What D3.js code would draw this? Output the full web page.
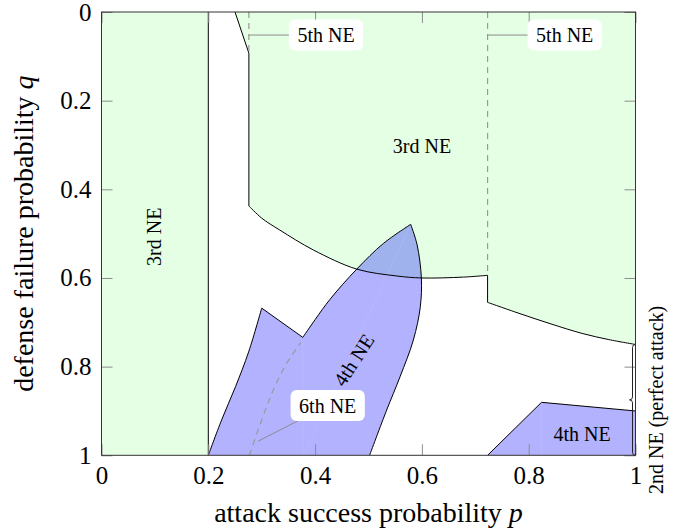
<!DOCTYPE html>
<html>
<head>
<meta charset="utf-8">
<script src="https://cdn.jsdelivr.net/npm/d3@7"></script>
<style>
  html, body { margin: 0; padding: 0; background: #fff; }
  svg { display: block; }
  svg text { font-family: "Liberation Serif", "Times New Roman", Times, serif; }
</style>
</head>
<body>
<svg id="chart" width="689" height="531"></svg>
<script>
// ---- equilibrium regions in the (p, q) plane ----
// left strip where the 3rd NE holds
const leftStrip = [[0, 0], [0.2, 0], [0.2, 1], [0, 1]];

// upper 3rd NE region: boundary pieces (top-left corner, arc, step, tail)
const upperNotch = [[0.25, 0], [0.276, 0.093], [0.276, 0.4376]];
const upperArc = [[0.276, 0.4376], [0.30, 0.465], [0.334, 0.492], [0.397, 0.537],
                  [0.478, 0.580], [0.553, 0.5955], [0.60, 0.600], [0.678, 0.598], [0.723, 0.594]];
const upperStep = [[0.723, 0.594], [0.723, 0.655]];
const upperTail = [[0.723, 0.655], [0.78, 0.679], [0.84, 0.703], [0.90, 0.725], [0.95, 0.739], [1, 0.75]];
const upperClose = [[1, 0.75], [1, 0], [0.25, 0]];

// leaf-shaped 4th NE region
const leafLeft = [[0.2, 1], [0.225, 0.92], [0.251, 0.845], [0.276, 0.765], [0.3, 0.668]];
const leafNotch = [[0.3, 0.668], [0.377, 0.734]];
const leafUpper = [[0.377, 0.734], [0.40, 0.694], [0.428, 0.648], [0.478, 0.580], [0.528, 0.522], [0.579, 0.479]];
const leafRight = [[0.579, 0.479], [0.591, 0.525], [0.599, 0.600], [0.597, 0.665], [0.584, 0.740],
                   [0.559, 0.823], [0.534, 0.898], [0.502, 1]];
const leafClose = [[0.502, 1], [0.2, 1]];

// lower-right 4th NE region
const cornerRegion = [[0.723, 1], [0.824, 0.8805], [1, 0.9], [1, 1]];

// faint seams between fill patches
const seams = [
  [[0.377, 1], [0.377, 0.734]],
  [[0.379, 1], [0.579, 0.479]],
  [[0.824, 1], [0.824, 0.8805]]
];

// dashed borders of the 5th and 6th NE
const fifthLines = [[[0.276, 0], [0.276, 0.093]], [[0.723, 0], [0.723, 0.594]]];
const sixthCurve = [[0.277, 1], [0.300, 0.920], [0.3217, 0.853], [0.3468, 0.7925], [0.373, 0.746]];

// pinned labels: anchor point and label centre
const pinLabels = [
  { text: "5th NE", at: [0.276, 0.052], label: [0.4204, 0.052] },
  { text: "5th NE", at: [0.723, 0.052], label: [0.8674, 0.052] },
  { text: "6th NE", at: [0.2936, 0.968], label: [0.4236, 0.8877] }
];

// region names
const regionLabels = [
  { text: "3rd NE", at: [0.0983, 0.507], angle: -90 },
  { text: "3rd NE", at: [0.6002, 0.3023], angle: 0 },
  { text: "4th NE", at: [0.4723, 0.785], angle: -57 },
  { text: "4th NE", at: [0.8998, 0.952], angle: 0 }
];

// brace on the right edge: q range of the 2nd NE at p = 1
const braceRange = [0.75, 1];
const braceText = "2nd NE (perfect attack)";

// axes
const xTickValues = [0, 0.2, 0.4, 0.6, 0.8, 1];
const xTickLabels = ["0", "0.2", "0.4", "0.6", "0.8", "1"];
const yTickValues = [0, 0.2, 0.4, 0.6, 0.8, 1];
const yTickLabels = ["0", "0.2", "0.4", "0.6", "0.8", "1"];
const xTitle = "attack success probability ";
const xTitleVar = "p";
const yTitle = "defense failure probability ";
const yTitleVar = "q";

// ---- drawing ----
const SERIF = '"Liberation Serif", "Times New Roman", Times, serif';
const GREEN = "#e5ffe5";
const svg = d3.select("#chart");

const x = d3.scaleLinear().domain([0, 1]).range([101.5, 635.5]);
const y = d3.scaleLinear().domain([0, 1]).range([12, 455.3]);

const straight = d3.line().x(d => x(d[0])).y(d => y(d[1]));
const smooth = d3.line().x(d => x(d[0])).y(d => y(d[1])).curve(d3.curveCatmullRom.alpha(0.5));

function joinPath(segs) {
  return segs.map((s, i) => {
    const p = (s.smooth ? smooth : straight)(s.pts);
    return i ? p.replace(/^M/, "L") : p;
  }).join("");
}

function serif(sel, size) {
  return sel.style("font-family", SERIF).style("font-size", size + "px").attr("fill", "#000");
}

svg.append("defs").append("clipPath").attr("id", "plot-clip")
  .append("rect")
  .attr("x", x(0)).attr("y", y(0))
  .attr("width", x(1) - x(0)).attr("height", y(1) - y(0));

const plot = svg.append("g").attr("clip-path", "url(#plot-clip)");

// green regions
plot.append("path").attr("d", straight(leftStrip) + "Z").attr("fill", GREEN);

const upperSegs = [
  { pts: upperNotch }, { pts: upperArc, smooth: true },
  { pts: upperStep }, { pts: upperTail, smooth: true }
];
plot.append("path")
  .attr("d", joinPath([...upperSegs, { pts: upperClose }]) + "Z")
  .attr("fill", GREEN);

// blue regions
const leafSegs = [
  { pts: leafLeft, smooth: true }, { pts: leafNotch },
  { pts: leafUpper, smooth: true }, { pts: leafRight, smooth: true }
];
plot.append("path")
  .attr("d", joinPath([...leafSegs, { pts: leafClose }]) + "Z")
  .attr("fill", "#0000ff").attr("fill-opacity", 0.3);
plot.append("path")
  .attr("d", straight(cornerRegion) + "Z")
  .attr("fill", "#0000ff").attr("fill-opacity", 0.3);

seams.forEach(s => {
  plot.append("path").attr("d", straight(s))
    .attr("fill", "none").attr("stroke", "#ffffff")
    .attr("stroke-opacity", 0.13).attr("stroke-width", 0.7);
});

// black borders
const border = g => g.attr("fill", "none").attr("stroke", "#000").attr("stroke-width", 1)
  .attr("stroke-linejoin", "miter");
plot.append("path").attr("d", straight([[0.2, 0], [0.2, 1]])).call(border);
plot.append("path").attr("d", joinPath(upperSegs)).call(border);
plot.append("path").attr("d", joinPath(leafSegs)).call(border);
plot.append("path").attr("d", straight(cornerRegion.slice(0, 3))).call(border);

// dashed lines
const dashed = g => g.attr("fill", "none").attr("stroke", "#999")
  .attr("stroke-width", 1.2).attr("stroke-dasharray", "6,5");
fifthLines.forEach(l => plot.append("path").attr("d", straight(l)).call(dashed));
plot.append("path").attr("d", smooth(sixthCurve)).call(dashed);

// axes with inward ticks on all four sides
function styleAxis(g) {
  g.attr("font-family", null).attr("font-size", null);
  g.select(".domain").remove();
  g.selectAll(".tick line").attr("stroke", "#8c8c8c").attr("stroke-width", 1);
  g.selectAll(".tick text").call(serif, 25);
}
svg.append("g").attr("transform", `translate(0,${y(1)})`)
  .call(d3.axisBottom(x).tickValues(xTickValues).tickFormat((d, i) => xTickLabels[i])
    .tickSizeInner(-11).tickSizeOuter(0).tickPadding(11))
  .call(styleAxis);
svg.append("g").attr("transform", `translate(0,${y(0)})`)
  .call(d3.axisTop(x).tickValues(xTickValues).tickFormat(() => "")
    .tickSizeInner(-11).tickSizeOuter(0))
  .call(styleAxis);
svg.append("g").attr("transform", `translate(${x(0)},0)`)
  .call(d3.axisLeft(y).tickValues(yTickValues).tickFormat((d, i) => yTickLabels[i])
    .tickSizeInner(-11).tickSizeOuter(0).tickPadding(10))
  .call(styleAxis);
svg.append("g").attr("transform", `translate(${x(1)},0)`)
  .call(d3.axisRight(y).tickValues(yTickValues).tickFormat(() => "")
    .tickSizeInner(-11).tickSizeOuter(0))
  .call(styleAxis);

// frame
svg.append("rect")
  .attr("x", x(0)).attr("y", y(0))
  .attr("width", x(1) - x(0)).attr("height", y(1) - y(0))
  .attr("fill", "none").attr("stroke", "#333").attr("stroke-width", 1);

// brace for the 2nd NE
{
  const xb = x(1), a = 6;
  const y1 = y(braceRange[0]), y2 = y(braceRange[1]), ym = (y1 + y2) / 2;
  const p = d3.path();
  p.moveTo(xb, y1);
  p.quadraticCurveTo(xb - a / 2, y1, xb - a / 2, y1 + a / 2);
  p.lineTo(xb - a / 2, ym - a / 2);
  p.quadraticCurveTo(xb - a / 2, ym, xb - a, ym);
  p.quadraticCurveTo(xb - a / 2, ym, xb - a / 2, ym + a / 2);
  p.lineTo(xb - a / 2, y2 - a / 2);
  p.quadraticCurveTo(xb - a / 2, y2, xb, y2);
  svg.append("path").attr("d", p.toString())
    .attr("fill", "none").attr("stroke", "#222").attr("stroke-width", 1);
  svg.append("text")
    .attr("transform", `translate(${xb + 20.5},${ym}) rotate(-90)`)
    .attr("dy", "0.35em").attr("text-anchor", "middle")
    .call(serif, 20)
    .text(braceText);
}

// region names
regionLabels.forEach(l => {
  svg.append("text")
    .attr("transform", `translate(${x(l.at[0])},${y(l.at[1])}) rotate(${l.angle})`)
    .attr("dy", "0.35em").attr("text-anchor", "middle")
    .call(serif, 20)
    .text(l.text);
});

// pinned labels in rounded white boxes
pinLabels.forEach(l => {
  const g = svg.append("g");
  const cx = x(l.label[0]), cy = y(l.label[1]);
  g.append("line")
    .attr("x1", x(l.at[0])).attr("y1", y(l.at[1]))
    .attr("x2", cx).attr("y2", cy)
    .attr("stroke", "#8c8c8c").attr("stroke-width", 1);
  const rect = g.append("rect");
  const t = g.append("text")
    .attr("x", cx).attr("y", cy).attr("dy", "0.35em")
    .attr("text-anchor", "middle")
    .call(serif, 20)
    .text(l.text);
  const w = t.node().getComputedTextLength() + 17, h = 31;
  rect.attr("x", cx - w / 2).attr("y", cy - h / 2)
    .attr("width", w).attr("height", h)
    .attr("rx", 6).attr("fill", "#fff");
});

// axis titles
const xt = svg.append("text")
  .attr("x", (x(0) + x(1)) / 2).attr("y", 522)
  .attr("text-anchor", "middle")
  .call(serif, 28);
xt.append("tspan").text(xTitle);
xt.append("tspan").attr("font-style", "italic").text(xTitleVar);

const yt = svg.append("text")
  .attr("transform", `translate(33.3,${(y(0) + y(1)) / 2}) rotate(-90)`)
  .attr("text-anchor", "middle")
  .call(serif, 28);
yt.append("tspan").text(yTitle);
yt.append("tspan").attr("font-style", "italic").text(yTitleVar);
</script>
</body>
</html>
